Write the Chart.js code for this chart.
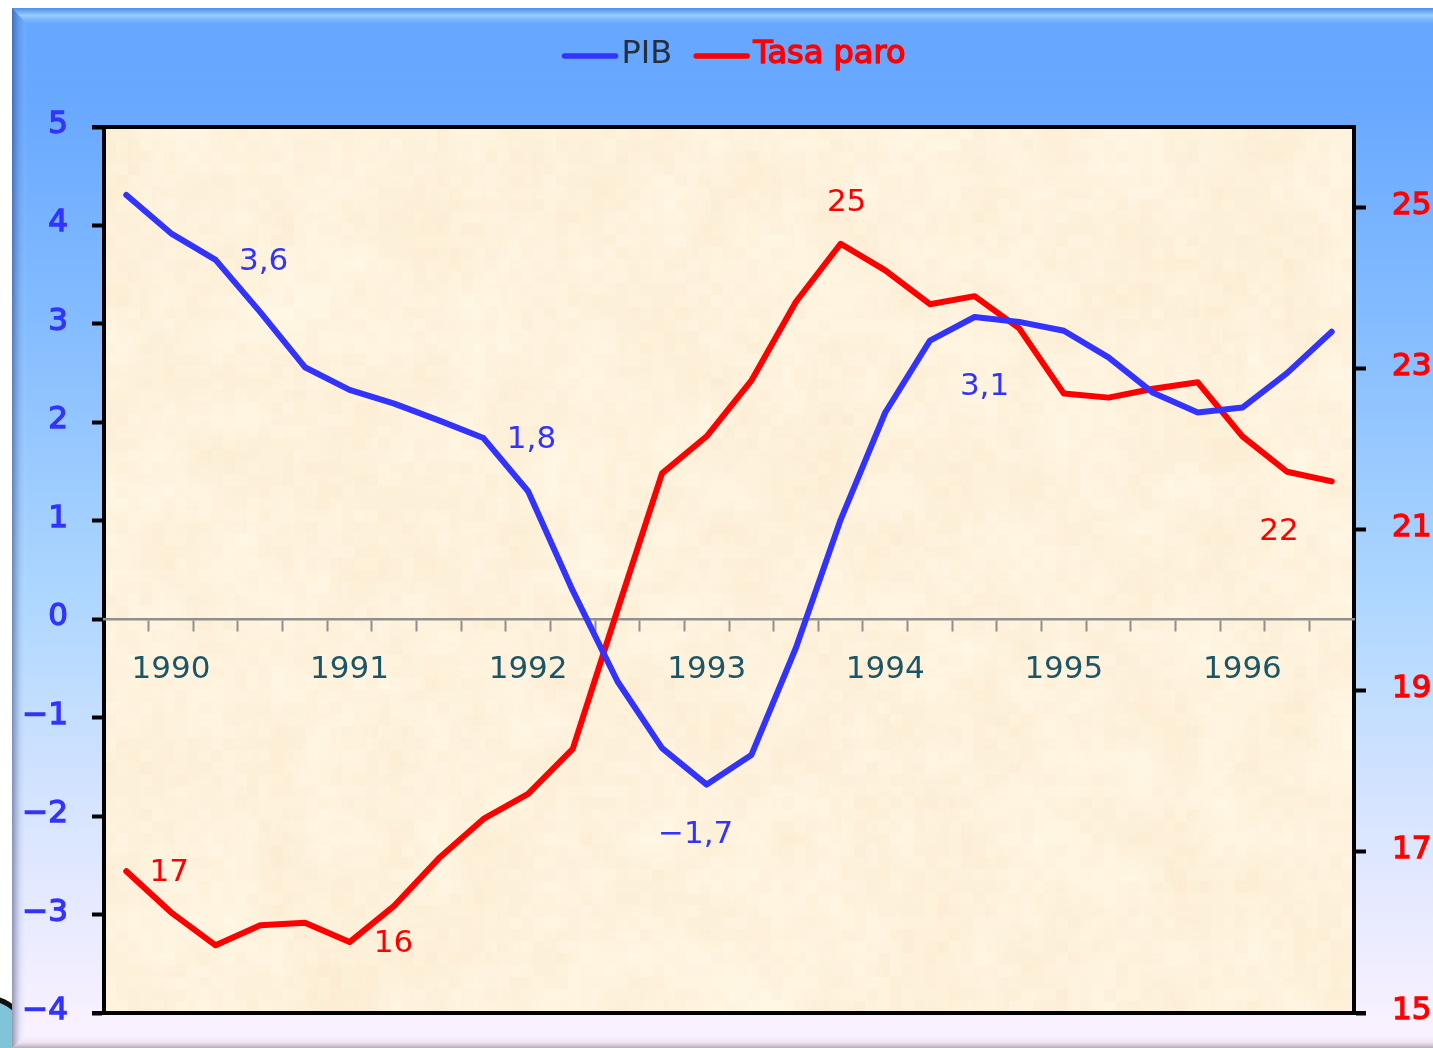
<!DOCTYPE html>
<html>
<head>
<meta charset="utf-8">
<style>html,body{margin:0;padding:0;background:#fff}canvas{display:block}</style>
<script src="https://cdn.jsdelivr.net/npm/chart.js@4/dist/chart.umd.js"></script>
</head>
<body>
<canvas id="c" width="1433" height="1048"></canvas>
<script>
const categories = ['', '1990', '', '', '', '1991', '', '', '', '1992', '', '', '', '1993', '', '', '', '1994', '', '', '', '1995', '', '', '', '1996', '', ''];
const pib = [4.31, 3.92, 3.65, 3.12, 2.56, 2.33, 2.19, 2.02, 1.84, 1.30, 0.29, -0.63, -1.31, -1.68, -1.38, -0.29, 1.01, 2.10, 2.83, 3.07, 3.02, 2.93, 2.66, 2.30, 2.10, 2.15, 2.50, 2.92];
const tasaParo = [16.76, 16.25, 15.84, 16.09, 16.12, 15.88, 16.33, 16.92, 17.41, 17.72, 18.28, 20.0, 21.70, 22.16, 22.85, 23.83, 24.55, 24.22, 23.80, 23.90, 23.50, 22.69, 22.64, 22.75, 22.83, 22.16, 21.72, 21.60];
const rightTicks = [15, 17, 19, 21, 23, 25];
const pibCallouts = [[2, '3,6', 48, 2], [8, '1,8', 48, 2], [13, '−1,7', -11, 50], [19, '3,1', 10, 70]];
const paroCallouts = [[0, '17', 43, 2], [5, '16', 44, 2], [16, '25', 6, -41], [26, '22', -8, 60]];

const FONT = '"DejaVu Sans"';
const BLUE = '#3333FF', RED = '#FF0000';

function hash(i, j) {
  const s = Math.sin(i * 127.1 + j * 311.7) * 43758.5453;
  return s - Math.floor(s);
}
function texture(w, h, cell, amp) {
  const t = document.createElement('canvas');
  t.width = Math.ceil(w / cell); t.height = Math.ceil(h / cell);
  const x = t.getContext('2d');
  for (let i = 0; i < t.width; i++) for (let j = 0; j < t.height; j++) {
    const n = hash(i + cell, j) - 0.5;
    x.fillStyle = 'rgb(' + (254 + n * amp * 0.4) + ',' + (242 + n * amp) + ',' + (220 + n * amp * 1.6) + ')';
    x.fillRect(i, j, 1, 1);
  }
  return t;
}

const backdrop = {
  id: 'backdrop',
  beforeDraw(chart) {
    const c = chart.ctx, a = chart.chartArea, W = chart.width, H = chart.height;
    c.save();
    // logo fragment behind the panel
    c.fillStyle = '#7fc4d8';
    c.beginPath(); c.arc(-12, 1040, 42, 0, Math.PI * 2); c.fill();
    c.strokeStyle = '#111'; c.lineWidth = 5;
    c.beginPath(); c.arc(-14, 1040, 42, -Math.PI / 2, 0); c.stroke();
    // panel
    const g = c.createLinearGradient(0, 8, 0, H);
    g.addColorStop(0, '#66A6FF'); g.addColorStop(0.09, '#68A8FF');
    g.addColorStop(0.3, '#84BCFF'); g.addColorStop(0.58, '#B0D8FF');
    g.addColorStop(0.8, '#DCE6FF'); g.addColorStop(1, '#FCF2FF');
    c.fillStyle = g; c.fillRect(12, 8, W - 12, H - 8);
    // bevels
    const top = c.createLinearGradient(0, 8, 0, 23);
    top.addColorStop(0, 'rgba(70,130,230,0.7)'); top.addColorStop(0.5, 'rgba(170,220,255,0.75)'); top.addColorStop(1, 'rgba(130,190,255,0.2)');
    c.fillStyle = top;
    c.beginPath(); c.moveTo(12, 8); c.lineTo(W, 8); c.lineTo(W, 23); c.lineTo(26, 23); c.closePath(); c.fill();
    const left = c.createLinearGradient(12, 0, 26, 0);
    left.addColorStop(0, 'rgba(30,40,80,0.45)'); left.addColorStop(0.6, 'rgba(60,90,160,0.08)'); left.addColorStop(1, 'rgba(255,255,255,0.06)');
    c.fillStyle = left;
    c.beginPath(); c.moveTo(12, 8); c.lineTo(26, 23); c.lineTo(26, 1035); c.lineTo(12, H); c.closePath(); c.fill();
    const bot = c.createLinearGradient(0, 1035, 0, H);
    bot.addColorStop(0, 'rgba(255,255,255,0.1)'); bot.addColorStop(0.55, 'rgba(150,130,150,0.12)'); bot.addColorStop(1, 'rgba(110,100,115,0.5)');
    c.fillStyle = bot;
    c.beginPath(); c.moveTo(26, 1035); c.lineTo(W, 1035); c.lineTo(W, H); c.lineTo(12, H); c.closePath(); c.fill();
    // parchment plot area
    const w = a.right - a.left, h = a.bottom - a.top;
    c.imageSmoothingEnabled = true;
    c.drawImage(texture(w, h, 40, 14), a.left, a.top, w, h);
    c.globalAlpha = 0.5; c.imageSmoothingEnabled = false;
    c.drawImage(texture(w, h, 12, 8), a.left, a.top, w, h);
    c.restore();
  },
  beforeDatasetsDraw(chart) {
    const c = chart.ctx, a = chart.chartArea;
    c.save();
    c.strokeStyle = '#000'; c.lineWidth = 4;
    c.beginPath();
    c.moveTo(92, a.top); c.lineTo(a.right + 2, a.top);
    c.moveTo(92, a.bottom); c.lineTo(a.right + 12, a.bottom);
    c.stroke();
    c.restore();
  }
};

const callouts = {
  id: 'callouts',
  afterDatasetsDraw(chart) {
    const c = chart.ctx;
    c.save();
    c.font = '31px ' + FONT; c.textAlign = 'center'; c.textBaseline = 'middle';
    [[0, 'yL', pibCallouts, pib, BLUE], [1, 'yR', paroCallouts, tasaParo, RED]].forEach(([d, sc, list, vals, col]) => {
      c.fillStyle = col;
      list.forEach(([i, txt, dx, dy]) => {
        c.fillText(txt, chart.scales.x.getPixelForValue(i) + dx, chart.scales[sc].getPixelForValue(vals[i]) + dy);
      });
    });
    c.restore();
  }
};

const legendTune = {
  id: 'legendTune',
  afterLayout(chart) {
    const l = chart.legend;
    l.left += 17; l.right += 17;
    l.top += -46; l.bottom += -46;
  },
  afterDraw(chart) {
    const c = chart.ctx, l = chart.legend;
    c.save();
    l.legendHitBoxes.forEach((h, i) => {
      const col = i ? RED : BLUE;
      c.strokeStyle = col; c.lineWidth = 5.5; c.lineCap = 'round';
      c.beginPath(); c.moveTo(h.left + 3, 56); c.lineTo(h.left + 54, 56); c.stroke();
      if (i) {
        c.font = '32px ' + FONT; c.textAlign = 'left'; c.textBaseline = 'middle';
        c.lineWidth = 1.4; c.lineCap = 'butt'; c.lineJoin = 'round';
        c.strokeText(l.legendItems[i].text, h.left + 44 + 16, h.top + h.height / 2);
      }
    });
    c.restore();
  }
};

new Chart(document.getElementById('c'), {
  type: 'line',
  data: {
    labels: categories,
    datasets: [
      { label: 'PIB', data: pib, yAxisID: 'yL', borderColor: BLUE, backgroundColor: BLUE, borderWidth: 6, pointRadius: 0, tension: 0, borderCapStyle: 'round', borderJoinStyle: 'round', fill: false },
      { label: 'Tasa paro', data: tasaParo, yAxisID: 'yR', borderColor: RED, backgroundColor: RED, borderWidth: 6, pointRadius: 0, tension: 0, borderCapStyle: 'round', borderJoinStyle: 'round', fill: false }
    ]
  },
  plugins: [backdrop, callouts, legendTune],
  options: {
    responsive: false,
    devicePixelRatio: 1,
    animation: false,
    layout: { padding: { top: 64, bottom: 35, left: 0, right: 0 } },
    plugins: {
      tooltip: { enabled: false },
      legend: {
        position: 'top',
        labels: {
          boxWidth: 44, boxHeight: 4, padding: 21,
          font: { family: FONT, size: 32 },
          generateLabels(chart) {
            return chart.data.datasets.map((d, i) => ({
              text: d.label, datasetIndex: i,
              fillStyle: 'rgba(0,0,0,0)', strokeStyle: 'rgba(0,0,0,0)', lineWidth: 0,
              fontColor: i ? RED : '#26303C'
            }));
          }
        }
      }
    },
    scales: {
      x: {
        type: 'category',
        offset: true,
        position: { yL: 0 },
        grid: { offset: true, drawOnChartArea: false, drawTicks: true, tickLength: 11, tickWidth: 2, tickColor: '#8f8f8f', color: '#8f8f8f', z: -1 },
        border: { display: true, color: '#8f8f8f', width: 2.5, z: 0 },
        ticks: { autoSkip: false, maxRotation: 0, minRotation: 0, padding: 21, color: '#1B5566', font: { family: FONT, size: 31 } }
      },
      yL: {
        type: 'linear', position: 'left', min: -4, max: 5,
        afterFit(s) { s.width = 104; s.paddingTop = 0; s.paddingBottom = 0; },
        grid: { drawOnChartArea: false, drawTicks: true, tickLength: 12, tickWidth: 4, tickColor: '#000', color: '#000', z: -2 },
        border: { display: true, color: '#000', width: 4, z: -1 },
        ticks: {
          stepSize: 1, padding: 24, labelOffset: -2, color: BLUE,
          textStrokeColor: BLUE, textStrokeWidth: 1.3,
          font: { family: FONT, size: 31 },
          callback: v => String(v).replace('-', '−')
        }
      },
      yR: {
        type: 'linear', position: 'right', min: 15, max: 26,
        afterFit(s) { s.width = 79; s.paddingTop = 0; s.paddingBottom = 0; },
        afterBuildTicks(s) { s.ticks = rightTicks.map(v => ({ value: v })); },
        grid: { drawOnChartArea: false, drawTicks: true, tickLength: 12, tickWidth: 4, tickColor: '#000', color: '#000', z: -2 },
        border: { display: true, color: '#000', width: 4, z: -1 },
        ticks: {
          padding: 26, labelOffset: -2, color: RED,
          textStrokeColor: RED, textStrokeWidth: 1.3,
          font: { family: FONT, size: 31 }
        }
      }
    }
  }
});
</script>
</body>
</html>
